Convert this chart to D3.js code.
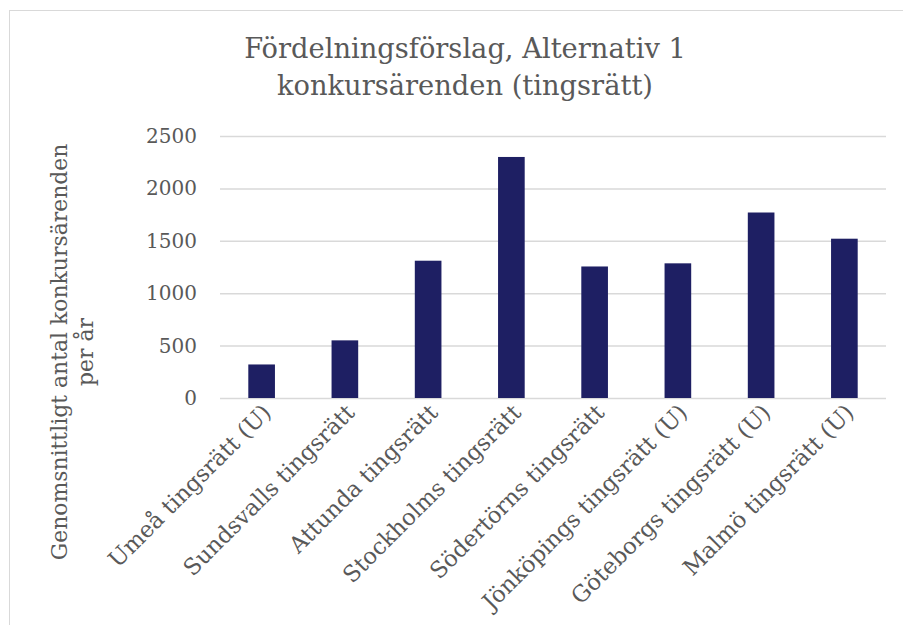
<!DOCTYPE html>
<html>
<head>
<meta charset="utf-8">
<script src="https://cdn.jsdelivr.net/npm/d3@7"></script>
<style>
  body { margin: 0; background: #fff; }
  svg text { font-family: "DejaVu Serif", Georgia, serif; fill: #595959; }
</style>
</head>
<body>
<div class="canvas"></div>
<script>
const courts = [
  'Umeå tingsrätt (U)', 'Sundsvalls tingsrätt', 'Attunda tingsrätt', 'Stockholms tingsrätt',
  'Södertörns tingsrätt', 'Jönköpings tingsrätt (U)', 'Göteborgs tingsrätt (U)', 'Malmö tingsrätt (U)'
];
const cases = [320, 550, 1310, 2300, 1255, 1285, 1770, 1520];
const yTicks = [0, 500, 1000, 1500, 2000, 2500];
const titleLines = ['Fördelningsförslag, Alternativ 1', 'konkursärenden (tingsrätt)'];
const yTitleLines = ['Genomsnittligt antal konkursärenden', 'per år'];

const width = 903;
const height = 625;
const margin = {top: 136, right: 17, bottom: 227, left: 220};
const innerW = width - margin.left - margin.right;
const innerH = height - margin.top - margin.bottom;

const svg = d3.select('.canvas').append('svg')
  .attr('width', width)
  .attr('height', height);

// chart border (runs off the right/bottom edge)
svg.append('rect')
  .attr('x', 9.5).attr('y', 10.5)
  .attr('width', width + 20).attr('height', height + 20)
  .attr('fill', 'none')
  .attr('stroke', '#d9d9d9');

// scale a text's font so its first line spans the given width
function fitSize(textSel, size, lineNode, target) {
  textSel.style('font-size', size + 'px');
  const w = lineNode.getComputedTextLength();
  textSel.style('font-size', (size * target / w).toFixed(2) + 'px');
}

const title = svg.append('text')
  .attr('text-anchor', 'middle');
title.selectAll('tspan')
  .data(titleLines)
  .join('tspan')
  .attr('x', 465)
  .attr('y', (d, i) => 58 + i * 37)
  .text(d => d);
fitSize(title, 26, title.select('tspan').node(), 442);

const g = svg.append('g')
  .attr('transform', `translate(${margin.left}, ${margin.top})`);

const x = d3.scaleBand()
  .domain(courts)
  .range([0, innerW])
  .paddingInner(0.68)
  .paddingOuter(0.34);

const y = d3.scaleLinear()
  .domain([0, 2500])
  .range([innerH, 0]);

// gridlines + y labels
const yAxis = g.append('g')
  .call(d3.axisLeft(y).tickValues(yTicks).tickSize(-innerW).tickPadding(23).tickFormat(d3.format('d')));
yAxis.select('.domain').remove();
yAxis.selectAll('.tick line')
  .attr('stroke', '#d9d9d9')
  .attr('stroke-width', 1.5);
yAxis.selectAll('.tick text')
  .style('font-size', '20px')
  .attr('fill', '#595959');

// bars
g.selectAll('rect.bar')
  .data(cases)
  .join('rect')
  .attr('class', 'bar')
  .attr('x', (d, i) => x(courts[i]))
  .attr('y', d => y(d))
  .attr('width', x.bandwidth())
  .attr('height', d => innerH - y(d))
  .attr('fill', '#1e1f63');

// category labels
const xAxis = g.append('g')
  .attr('transform', `translate(0, ${innerH})`)
  .call(d3.axisBottom(x).tickSize(0).tickPadding(0));
xAxis.select('.domain').remove();
const xLabels = xAxis.selectAll('.tick text')
  .attr('fill', '#595959')
  .attr('text-anchor', 'end')
  .attr('dy', null)
  .attr('transform', 'translate(11, 16) rotate(-45)');
fitSize(xLabels, 17, xLabels.node(), 219);

// y title
const yTitle = svg.append('text')
  .attr('text-anchor', 'middle')
  .attr('transform', 'translate(0, 352) rotate(-90)');
yTitle.selectAll('tspan')
  .data(yTitleLines)
  .join('tspan')
  .attr('x', 0)
  .attr('y', (d, i) => 67 + i * 26)
  .text(d => d);
fitSize(yTitle, 21, yTitle.select('tspan').node(), 417);
</script>
</body>
</html>
